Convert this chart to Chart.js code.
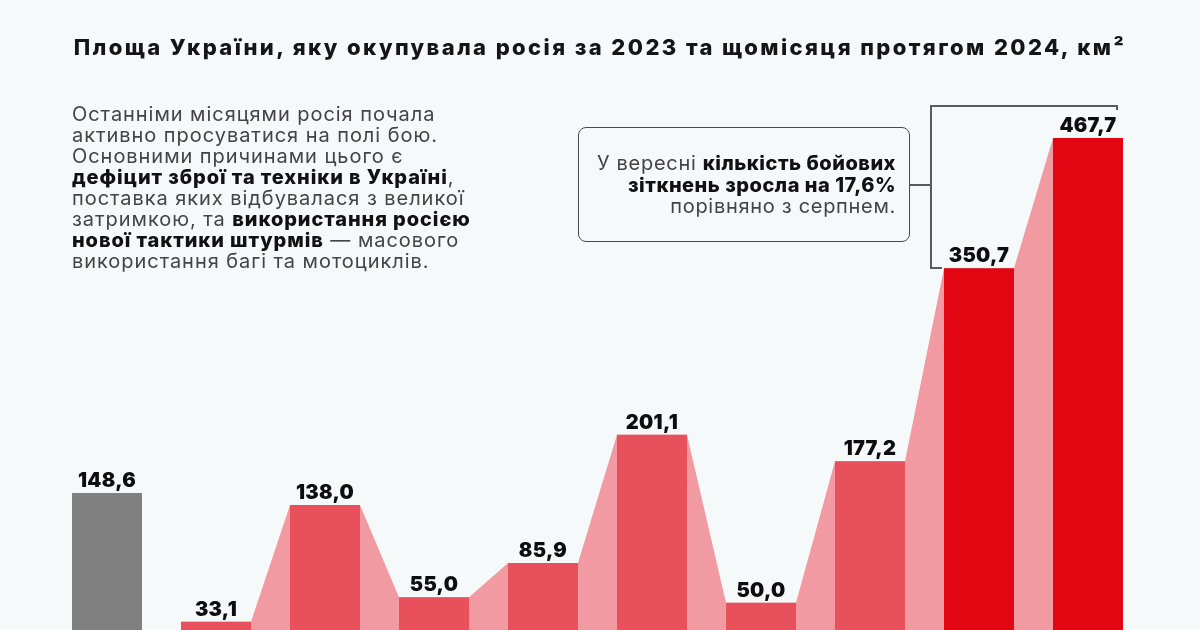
<!DOCTYPE html>
<html><head><meta charset="utf-8">
<script src="https://cdn.jsdelivr.net/npm/chart.js@4.4.1/dist/chart.umd.min.js"></script>
<style>
html,body{margin:0;padding:0;width:1200px;height:630px;overflow:hidden;background:#f5f9fa;font-family:Inter,"Noto Sans",sans-serif;}
#c{position:absolute;left:0;top:0;}
#title{position:absolute;left:0;width:1200px;top:33px;text-align:center;font-weight:800;font-size:22px;line-height:28px;color:#151515;letter-spacing:2.4px;white-space:nowrap;}
#para{position:absolute;left:72px;top:104px;font-size:20px;line-height:21px;color:#444;white-space:nowrap;letter-spacing:0.95px;}
#para b{color:#111;font-weight:800;letter-spacing:0.9px;}
#box{position:absolute;left:578px;top:127px;width:332px;height:115px;border:1.6px solid #4a4a4a;border-radius:8px;box-sizing:border-box;}
#boxtext{position:absolute;right:304px;top:153px;text-align:right;font-size:20px;line-height:21.5px;color:#444;white-space:nowrap;letter-spacing:0.7px;}
#boxtext b{color:#111;font-weight:800;letter-spacing:0.5px;}
.ln{position:absolute;background:#5a5a5a;}
</style></head>
<body>
<canvas id="c" width="1200" height="680"></canvas>
<div id="title">Площа України, яку окупувала росія за 2023 та щомісяця протягом 2024, км²</div>
<div id="para">Останніми місяцями росія почала<br>активно просуватися на полі бою.<br>Основними причинами цього є<br><b>дефіцит зброї та техніки в Україні</b>,<br>поставка яких відбувалася з великої<br>затримкою, та <b>використання росією</b><br><b>нової тактики штурмів</b> — масового<br>використання багі та мотоциклів.</div>
<div id="box"></div>
<div id="boxtext">У вересні <b>кількість бойових</b><br><b>зіткнень зросла на 17,6%</b><br>порівняно з серпнем.</div>
<div class="ln" style="left:910px;top:184px;width:22px;height:1.5px;"></div>
<div class="ln" style="left:930px;top:105px;width:1.5px;height:164px;"></div>
<div class="ln" style="left:930px;top:105px;width:188px;height:1.5px;"></div>
<div class="ln" style="left:1116px;top:105px;width:1.5px;height:5px;"></div>
<div class="ln" style="left:930px;top:267px;width:12px;height:1.5px;"></div>
<script>
// Data
const categories = ['2023', 'Січень', 'Лютий', 'Березень', 'Квітень', 'Травень', 'Червень', 'Липень', 'Серпень', 'Вересень'];
const areaKm2 = [148.6, 33.1, 138.0, 55.0, 85.9, 201.1, 50.0, 177.2, 350.7, 467.7];
const barColors = ['#808080', '#e8505b', '#e8505b', '#e8505b', '#e8505b', '#e8505b', '#e8505b', '#e8505b', '#e20613', '#e20613'];
const connectorColor = '#f29aa2';

const BAR_PCT = 0.642;
const half = BAR_PCT / 2;

const barData = areaKm2.map((v, i) => ({x: i, y: v}));
const connectorData = [];
areaKm2.forEach((v, i) => {
  if (i === 0) return;
  connectorData.push({x: i - half, y: v});
  connectorData.push({x: i + half, y: v});
});

const labelPlugin = {
  id: 'valueLabels',
  afterDatasetsDraw(chart) {
    const ctx = chart.ctx;
    const meta = chart.getDatasetMeta(0);
    ctx.save();
    ctx.font = '900 20px Inter, sans-serif';
    try { ctx.letterSpacing = '0.3px'; } catch (e) {}
    ctx.fillStyle = '#0d0d0d';
    ctx.textAlign = 'center';
    ctx.textBaseline = 'alphabetic';
    meta.data.forEach((el, i) => {
      const txt = areaKm2[i].toFixed(1).replace('.', ',');
      ctx.fillText(txt, el.x, el.y - 6);
    });
    ctx.restore();
  }
};

new Chart(document.getElementById('c'), {
  data: {
    datasets: [
      {
        type: 'bar',
        label: 'Площа, км²',
        data: barData,
        backgroundColor: barColors,
        borderWidth: 0,
        categoryPercentage: 1,
        barPercentage: BAR_PCT
      },
      {
        type: 'line',
        data: connectorData,
        fill: 'origin',
        backgroundColor: connectorColor,
        borderWidth: 0,
        pointRadius: 0,
        tension: 0
      }
    ]
  },
  options: {
    responsive: false,
    animation: false,
    devicePixelRatio: 1,
    layout: {padding: {left: 52.5, right: 57.5, top: 102, bottom: 21.5}},
    plugins: {legend: {display: false}, tooltip: {enabled: false}},
    scales: {
      x: {type: 'linear', min: -0.5, max: 9.5, offset: false, display: false,
          ticks: {stepSize: 1, includeBounds: false}},
      y: {min: 0, max: 500, display: false}
    }
  },
  plugins: [labelPlugin]
});
</script>
</body></html>
